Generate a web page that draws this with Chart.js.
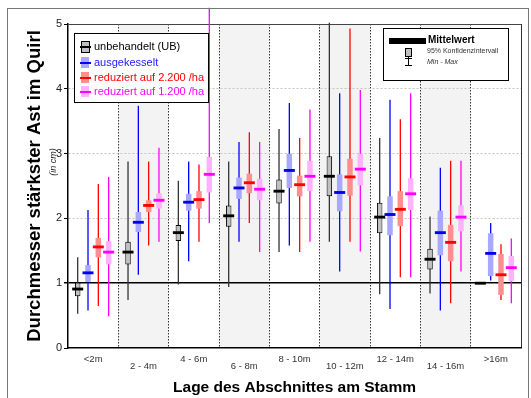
<!DOCTYPE html>
<html>
<head>
<meta charset="utf-8">
<script src="https://cdn.jsdelivr.net/npm/chart.js@4.4.0/dist/chart.umd.min.js"></script>
<style>
    body { margin: 0; background: #fff; font-family: "Liberation Sans", Arial, sans-serif; }
    #wrap { position: relative; width: 531px; height: 398px; overflow: hidden; }
    #frame { position: absolute; left: 7px; top: 8px; width: 520px; height: 400px; border: 1.5px solid #777; border-bottom: none; }
    .legend { position: absolute; background: #fff; border: 1.5px solid #000; }
    .row { position: absolute; left: 19px; font-size: 11px; line-height: 13px; white-space: nowrap; }
    .sym-box { position: absolute; left: 6px; width: 8px; height: 11px; }
    .sym-line { position: absolute; left: 5px; width: 11px; height: 2px; }
    .small { position: absolute; left: 43px; color: #333; white-space: nowrap; }
    #incm { position: absolute; left: 53px; top: 162px; font-size: 9px; font-style: italic; color: #222;
            transform: translate(-50%, -50%) rotate(-90deg); white-space: nowrap; }
</style>
</head>
<body>
<div id="wrap">
    <canvas id="boxChart" width="531" height="398"></canvas>
    <div id="frame"></div>
    <div id="incm">(in cm)</div>

    <div class="legend" style="left:74px; top:33px; width:133px; height:68px;">
        <div class="sym-box" style="top:7px; background:#c0c0c0; border:1px solid #000; width:7px; height:10px;"></div>
        <div class="sym-line" style="top:12px; background:#000;"></div>
        <div class="row" style="top:6px; color:#000;">unbehandelt (UB)</div>
        <div class="sym-box" style="top:23px; background:#a8a8ff;"></div>
        <div class="sym-line" style="top:28px; background:#0000ff;"></div>
        <div class="row" style="top:22px; color:#2020ff;">ausgekesselt</div>
        <div class="sym-box" style="top:38px; background:#ff8f8f;"></div>
        <div class="sym-line" style="top:43px; background:#ff0000;"></div>
        <div class="row" style="top:37px; color:#ff0000;">reduziert auf 2.200 /ha</div>
        <div class="sym-box" style="top:52px; background:#ffb3ff;"></div>
        <div class="sym-line" style="top:57px; background:#ff00ff;"></div>
        <div class="row" style="top:51px; color:#ff00ff;">reduziert auf 1.200 /ha</div>
    </div>

    <div class="legend" style="left:383px; top:28px; width:124px; height:51px; border-width:1px;">
        <div style="position:absolute; left:5px; top:9px; width:37px; height:6px; background:#000;"></div>
        <div class="small" style="left:44px; top:5px; font-size:10px; font-weight:bold; color:#000;">Mittelwert</div>
        <div style="position:absolute; left:21px; top:19px; width:5px; height:7px; background:#c0c0c0; border:1px solid #000;"></div>
        <div style="position:absolute; left:24px; top:27px; width:1px; height:4px; background:#000;"></div>
        <div class="small" style="top:18px; font-size:7px;">95% Konfidenzintervall</div>
        <div style="position:absolute; left:24px; top:29px; width:1px; height:8px; background:#000;"></div>
        <div style="position:absolute; left:21px; top:29px; width:7px; height:1px; background:#000;"></div>
        <div style="position:absolute; left:21px; top:36px; width:7px; height:1px; background:#000;"></div>
        <div class="small" style="top:29px; font-size:7px; font-style:italic;">Min - Max</div>
    </div>
</div>
<script>
var categories = ['<2m', '2 - 4m', '4 - 6m', '6 - 8m', '8 - 10m', '10 - 12m', '12 - 14m', '14 - 16m', '>16m'];
var yTicks = [0, 1, 2, 3, 4, 5];

// unbehandelt (UB)
var ubMean   = [0.91, 1.48, 1.78, 2.04, 2.42, 2.65, 2.02, 1.37, 1.00];
var ubCiLow  = [0.80, 1.29, 1.65, 1.87, 2.23, 2.34, 1.77, 1.21, 1.00];
var ubCiHigh = [1.01, 1.64, 1.90, 2.20, 2.60, 2.96, 2.24, 1.53, 1.00];
var ubMin    = [0.53, 0.74, 0.98, 0.94, 1.48, 1.64, 0.83, 0.84, 1.00];
var ubMax    = [1.40, 2.88, 2.58, 2.88, 3.38, 5.02, 3.24, 2.03, 1.00];

// ausgekesselt
var akMean   = [1.16, 1.94, 2.25, 2.47, 2.74, 2.40, 2.06, 1.78, 1.46];
var akCiLow  = [1.02, 1.79, 2.12, 2.30, 2.47, 2.11, 1.74, 1.43, 1.11];
var akCiHigh = [1.28, 2.10, 2.38, 2.63, 3.00, 2.68, 2.34, 2.12, 1.77];
var akMin    = [0.58, 1.13, 1.34, 1.64, 1.58, 1.18, 0.60, 0.58, 1.04];
var akMax    = [2.13, 3.74, 2.88, 3.18, 3.78, 3.93, 3.83, 2.78, 1.93];

// reduziert auf 2.200 /ha
var r22Mean   = [1.56, 2.20, 2.29, 2.55, 2.52, 2.64, 2.14, 1.63, 1.13];
var r22CiLow  = [1.40, 2.10, 2.15, 2.39, 2.34, 2.35, 1.88, 1.34, 0.82];
var r22CiHigh = [1.70, 2.28, 2.42, 2.69, 2.66, 2.92, 2.42, 1.90, 1.45];
var r22Min    = [0.65, 1.58, 1.64, 1.93, 1.48, 1.64, 1.09, 0.69, 0.74];
var r22Max    = [2.53, 2.88, 2.83, 3.33, 3.24, 4.93, 3.53, 2.89, 1.60];

// reduziert auf 1.200 /ha
var r12Mean   = [1.48, 2.28, 2.68, 2.45, 2.65, 2.76, 2.38, 2.02, 1.24];
var r12CiLow  = [1.29, 2.15, 2.40, 2.28, 2.42, 2.51, 2.13, 1.80, 1.03];
var r12CiHigh = [1.65, 2.39, 2.95, 2.61, 2.89, 3.00, 2.62, 2.20, 1.42];
var r12Min    = [0.49, 1.64, 1.93, 1.48, 1.64, 1.49, 1.09, 1.18, 0.69];
var r12Max    = [2.64, 3.09, 5.25, 3.18, 3.68, 3.98, 3.93, 2.89, 1.69];

var MEAN_HALF = 0.022;  // half thickness of the mean marker, in cm

var series = [
    {key: 'UB', name: 'unbehandelt (UB)', mean: ubMean, lo: ubCiLow, hi: ubCiHigh, min: ubMin, max: ubMax,
        line: '#000000', whisker: '#333333', fill: '#c0c0c0', border: '#000000', borderWidth: 1},
    {key: 'AK', name: 'ausgekesselt', mean: akMean, lo: akCiLow, hi: akCiHigh, min: akMin, max: akMax,
        line: '#0000ee', whisker: '#0000ff', fill: '#a8a8ff', border: '#a8a8ff', borderWidth: 0},
    {key: 'R22', name: 'reduziert auf 2.200 /ha', mean: r22Mean, lo: r22CiLow, hi: r22CiHigh, min: r22Min, max: r22Max,
        line: '#ff0000', whisker: '#ff0000', fill: '#ff8f8f', border: '#ff8f8f', borderWidth: 0},
    {key: 'R12', name: 'reduziert auf 1.200 /ha', mean: r12Mean, lo: r12CiLow, hi: r12CiHigh, min: r12Min, max: r12Max,
        line: '#ff00ff', whisker: '#ff00ff', fill: '#ffb3ff', border: '#ffb3ff', borderWidth: 0}
];

function pairs(a, b) {
    return a.map(function (v, i) { return [v, b[i]]; });
}

var datasets = [];
series.forEach(function (s) {
    var common = {stack: s.key, categoryPercentage: 0.82, borderSkipped: false};
    datasets.push(Object.assign({
        label: s.name + ' Min - Max',
        data: pairs(s.min, s.max),
        backgroundColor: s.whisker,
        maxBarThickness: 1.3,
        barPercentage: 1,
        order: 2,
        clip: false
    }, common));
    datasets.push(Object.assign({
        label: s.name + ' 95%',
        data: pairs(s.lo, s.hi),
        backgroundColor: s.fill,
        borderColor: s.border,
        borderWidth: s.borderWidth,
        maxBarThickness: 5.5,
        barPercentage: 1,
        order: 1
    }, common));
    datasets.push(Object.assign({
        label: s.name,
        data: s.mean.map(function (m) { return [m - MEAN_HALF, m + MEAN_HALF]; }),
        backgroundColor: s.line,
        maxBarThickness: 11,
        barPercentage: 1.3,
        order: 0
    }, common));
});

// grey background on every second section
var shading = {
    id: 'shading',
    beforeDraw: function (chart) {
        var x = chart.scales.x, area = chart.chartArea, ctx = chart.ctx;
        var w = (x.right - x.left) / categories.length;
        ctx.save();
        ctx.fillStyle = '#f3f3f3';
        for (var i = 1; i < categories.length; i += 2) {
            var cx = x.getPixelForValue(i);
            ctx.fillRect(cx - w / 2, area.top, w, area.bottom - area.top);
        }
        ctx.restore();
    }
};

var font = '"Liberation Sans", Arial, sans-serif';

new Chart(document.getElementById('boxChart'), {
    type: 'bar',
    data: {
        labels: categories.map(function (c, i) { return i % 2 ? ['', c] : c; }),
        datasets: datasets
    },
    options: {
        responsive: false,
        animation: false,
        layout: {padding: {left: 8, right: 10, top: 24, bottom: 0}},
        plugins: {legend: {display: false}, tooltip: {enabled: false}},
        scales: {
            x: {
                grid: {
                    offset: true,
                    drawTicks: false,
                    color: '#333',
                    lineWidth: 1
                },
                border: {
                    color: '#000',
                    width: 1.5,
                    dash: function (ctx) { return ctx.type === 'tick' && ctx.index < categories.length ? [1.5, 1.5] : []; }
                },
                ticks: {
                    autoSkip: false,
                    maxRotation: 0,
                    padding: 8.5,
                    color: '#333',
                    font: {family: font, size: 9.5, lineHeight: 0.7}
                },
                title: {
                    display: true,
                    text: 'Lage des Abschnittes am Stamm',
                    color: '#000',
                    padding: {top: 0, bottom: 1},
                    font: {family: font, size: 15.5, weight: 'bold'}
                },
                afterFit: function (scale) { scale.height = 50; }
            },
            y: {
                stacked: false,
                min: yTicks[0],
                max: yTicks[yTicks.length - 1],
                afterBuildTicks: function (scale) {
                    scale.ticks = yTicks.map(function (v) { return {value: v}; });
                },
                grid: {
                    drawTicks: true,
                    tickLength: 4,
                    tickColor: '#000',
                    color: function (ctx) {
                        var v = ctx.tick.value;
                        if (v === 1) return '#000';
                        if (v === 5) return '#444';
                        if (v === 0) return 'rgba(0,0,0,0)';
                        return '#c4c4c4';
                    },
                    lineWidth: function (ctx) { return ctx.tick.value === 1 ? 1.5 : 1; }
                },
                border: {
                    color: '#000',
                    width: 1.5,
                    dash: function (ctx) {
                        if (ctx.type !== 'tick') return [];
                        var v = ctx.tick.value;
                        return v === 1 || v === 5 ? [] : [2, 2];
                    }
                },
                ticks: {
                    padding: 2,
                    color: '#222',
                    font: {family: font, size: 11}
                },
                title: {
                    display: true,
                    text: 'Durchmesser stärkster Ast im Quirl',
                    color: '#000',
                    padding: {top: 16, bottom: 0},
                    font: {family: font, size: 18.5, weight: 'bold'}
                },
                afterFit: function (scale) { scale.width = 60; }
            }
        }
    },
    plugins: [shading]
});
</script>
</body>
</html>
